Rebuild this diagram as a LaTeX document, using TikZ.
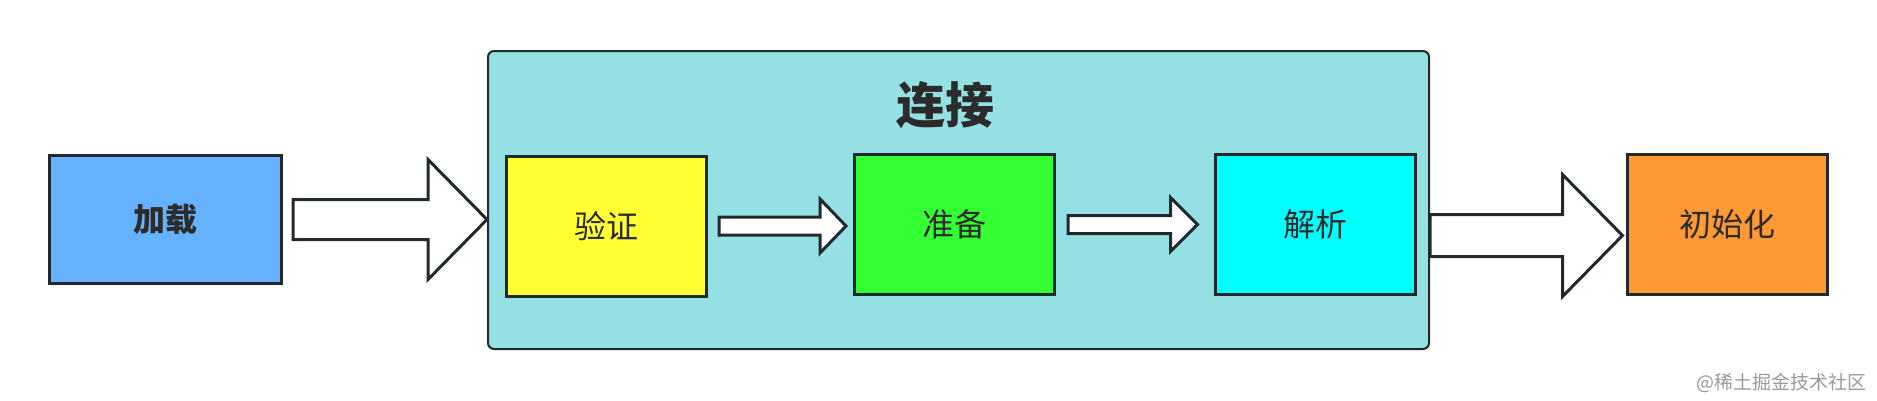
\documentclass[tikz,border=0pt]{standalone}
\usepackage{fontspec}
\usepackage{xcolor}
\usetikzlibrary{calc}
\newfontfamily\cjk{Noto Sans CJK SC}
\definecolor{edgecol}{HTML}{22292E}
\definecolor{txtcol}{HTML}{2B2B2B}
\definecolor{loadcol}{HTML}{66B2FF}
\definecolor{linkcol}{HTML}{94E0E2}
\definecolor{verifycol}{HTML}{FFFF33}
\definecolor{preparecol}{HTML}{33FF33}
\definecolor{resolvecol}{HTML}{00FFFF}
\definecolor{initcol}{HTML}{FF9933}

\begin{document}
\begin{tikzpicture}[x=1pt,y=-1pt,
    stage/.style={draw=edgecol,line width=3pt,minimum width=200pt,minimum height=140pt,text=txtcol,
        font=\cjk\fontsize{32}{36}\selectfont},
    blockarrow/.style={draw=edgecol,line width=3pt,fill=white,line join=miter}]
        \useasboundingbox (0,0) rectangle (1877,400);
        % outer phase
        \node[draw=edgecol,line width=2pt,fill=linkcol,rounded corners=6pt,
            minimum width=941pt,minimum height=298pt] (link) at (958.5,200) {};
        \node[text=txtcol,font=\cjk\fontsize{49}{54}\selectfont\bfseries] (linktitle) at (945,105) {连接};
        % stages
        \node[stage,fill=loadcol,minimum width=232pt,minimum height=128pt,
            font=\cjk\fontsize{32}{36}\selectfont\bfseries] (load) at (165.5,219.5) {加载};
        \node[stage,fill=verifycol] (verify) at (606.5,226) {验证};
        \node[stage,fill=preparecol] (prepare) at (954.5,224.5) {准备};
        \node[stage,fill=resolvecol] (resolve) at (1315,224.5) {解析};
        \node[stage,fill=initcol] (init) at (1727,224.5) {初始化};
        % arrow ends
        \coordinate (s1) at ($(load.east)+(10,0)$);
        \coordinate (t1) at (link.west);
        \coordinate (s2) at ($(verify.east)+(11,0)$);
        \coordinate (t2) at ($(prepare.west)+(-7,0)$);
        \coordinate (s3) at ($(prepare.east)+(12,0)$);
        \coordinate (t3) at ($(resolve.west)+(-16,0)$);
        \coordinate (s4) at ($(link.east |- init.east)+(0,11)$);
        \coordinate (t4) at ($(init.west)+(-3,0)$);
        \foreach \a/\b/\s/\h/\l in {s1/t1/20/60/59, s2/t2/9/27/26, s3/t3/9/27/27, s4/t4/21/61/60} {
            \draw[blockarrow] let \p1=(\a), \p2=(\b) in
                (\x1,{\y1+\s pt}) -- ({\x2-\l pt},{\y1+\s pt}) -- ({\x2-\l pt},{\y1+\h pt})
                -- (\x2,\y1) -- ({\x2-\l pt},{\y1-\h pt}) -- ({\x2-\l pt},{\y1-\s pt})
                -- (\x1,{\y1-\s pt}) -- cycle;
        }
        \node[text=black!40,font=\cjk\fontsize{19}{22}\selectfont,anchor=east] (mark) at (1870,383) {@稀土掘金技术社区};
    \end{tikzpicture}
\end{document}
